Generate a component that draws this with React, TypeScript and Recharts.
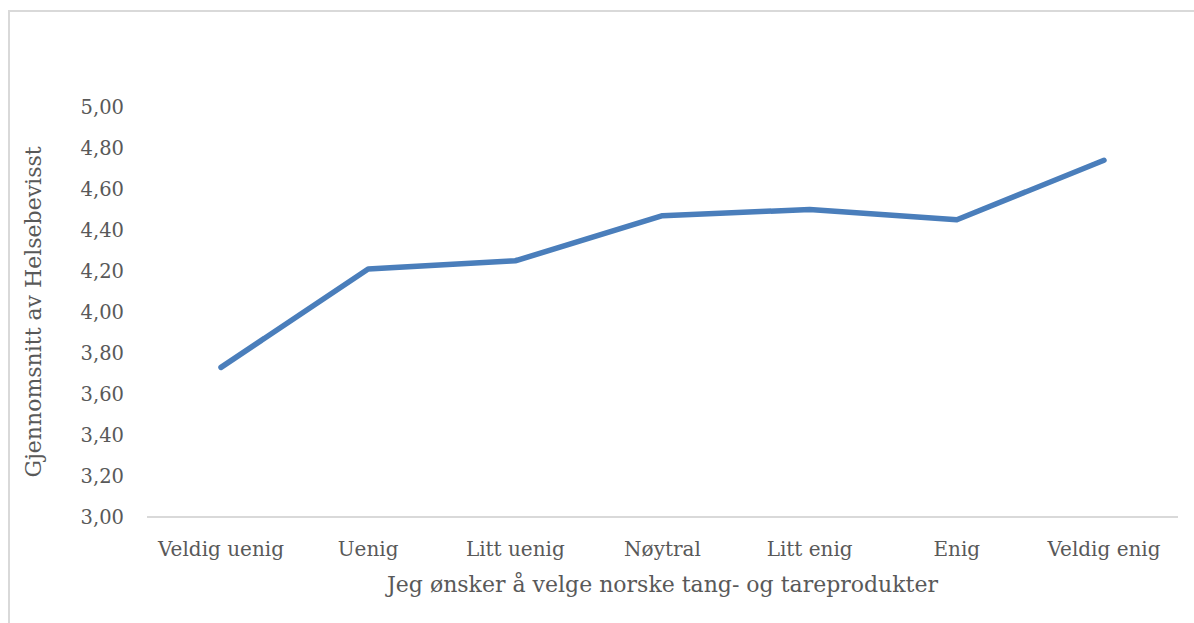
import React from "react";
import { LineChart, Line, XAxis, YAxis, Label } from "recharts";

const categories = ["Veldig uenig", "Uenig", "Litt uenig", "Nøytral", "Litt enig", "Enig", "Veldig enig"];
const means = [3.73, 4.21, 4.25, 4.47, 4.5, 4.45, 4.74];
const yTicks = [3.0, 3.2, 3.4, 3.6, 3.8, 4.0, 4.2, 4.4, 4.6, 4.8, 5.0];

const data = categories.map((c, i) => ({ name: c, value: means[i] }));

const FONT = "'DejaVu Serif', serif";
const TEXT = "#595959";

export default function App() {
  return (
    <div style={{ position: "fixed", left: 8, top: 10, width: 1186, height: 613, borderLeft: "2px solid #d9d9d9", borderTop: "2px solid #d9d9d9", boxSizing: "border-box", background: "#fff" }}>
      <style>{`html,body{overflow:hidden;}`}</style>
      <div style={{ position: "absolute", left: -2, top: -2 }}>
        <LineChart width={1186} height={613} data={data} margin={{ top: 97, right: 16, left: 0, bottom: 0 }}>
          <XAxis
            dataKey="name"
            height={106}
            padding={{ left: 74, right: 74 }}
            axisLine={{ stroke: "#d9d9d9", strokeWidth: 2 }}
            tickLine={false}
            tickMargin={19}
            tick={{ fill: TEXT, fontFamily: FONT, fontSize: 20 }}
            interval={0}
          >
            <Label
              value="Jeg ønsker å velge norske tang- og tareprodukter"
              position="insideBottom"
              offset={31}
              style={{ fill: TEXT, fontFamily: FONT, fontSize: 22 }}
            />
          </XAxis>
          <YAxis
            width={139}
            domain={[3, 5]}
            ticks={yTicks}
            axisLine={false}
            tickLine={false}
            tickMargin={17}
            tick={{ fill: TEXT, fontFamily: FONT, fontSize: 19.5 }}
            tickFormatter={(v: number) => v.toFixed(2).replace(".", ",")}
          >
            <Label
              value="Gjennomsnitt av Helsebevisst"
              angle={-90}
              position="insideLeft"
              offset={25}
              style={{ fill: TEXT, fontFamily: FONT, fontSize: 22, textAnchor: "middle" }}
            />
          </YAxis>
          <Line
            type="linear"
            dataKey="value"
            stroke="#4a7ebb"
            strokeWidth={5.5}
            strokeLinecap="round"
            strokeLinejoin="round"
            dot={false}
            activeDot={false}
            isAnimationActive={false}
          />
        </LineChart>
      </div>
    </div>
  );
}
